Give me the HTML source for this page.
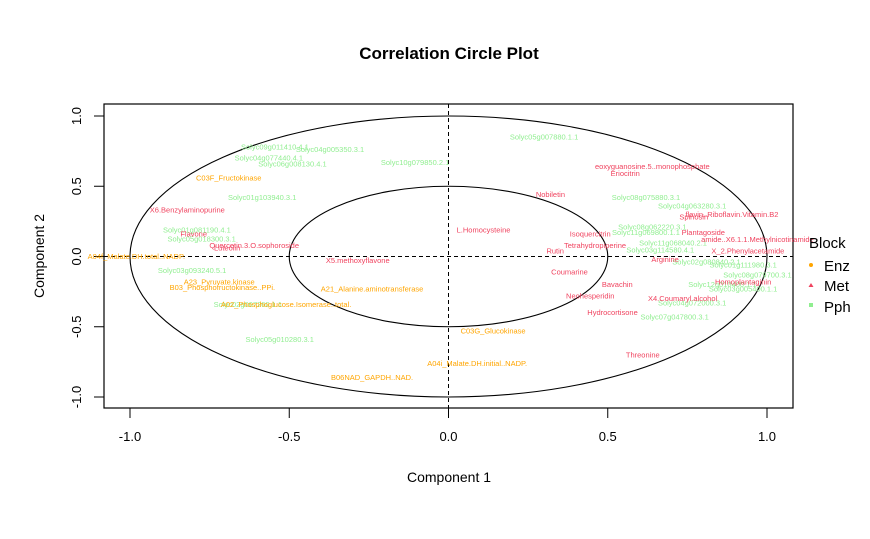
<!DOCTYPE html>
<html><head><meta charset="utf-8"><style>
html,body{margin:0;padding:0;background:#fff;}
svg{display:block;font-family:"Liberation Sans",Arial,sans-serif;}
</style></head><body>
<svg id="chart" width="870" height="539" viewBox="0 0 870 539" xmlns="http://www.w3.org/2000/svg">
<rect width="870" height="539" fill="#fff"/>
<text x="449" y="59" text-anchor="middle" font-size="17" font-weight="bold">Correlation Circle Plot</text>
<g id="axes"></g>
<g id="labels" font-size="7.5" text-anchor="middle"></g>
<text x="449" y="482" text-anchor="middle" font-size="14">Component  1</text>
<text transform="translate(44,256) rotate(-90)" text-anchor="middle" font-size="14">Component  2</text>
<g>
<text x="809" y="248" font-size="15">Block</text>
<circle cx="811" cy="265" r="2" fill="#FFA500"/>
<text x="824" y="271" font-size="15">Enz</text>
<path d="M808.5 287 L811 283 L813.5 287 Z" fill="#F0435F"/>
<text x="824" y="291" font-size="15">Met</text>
<rect x="809" y="303" width="4" height="4" fill="#90EE90"/>
<text x="824" y="312" font-size="15">Pph</text>
</g>
</svg>
<script>
const xTicks = [-1.0, -0.5, 0.0, 0.5, 1.0];
const yTicks = [-1.0, -0.5, 0.0, 0.5, 1.0];
const tickLabels = ["-1.0", "-0.5", "0.0", "0.5", "1.0"];
const radii = [1, 0.5];
const enzNames = ["C03F_Fructokinase","A04f_Malate.DH.total..NADP.","A23_Pyruvate.kinase","B03_Phosphofructokinase..PPi.","A02_Phosphoglucose.Isomerase..total.","A21_Alanine.aminotransferase","C03G_Glucokinase","A04i_Malate.DH.initial..NADP.","B06NAD_GAPDH..NAD."];
const enzX = [-0.69,-0.98,-0.72,-0.71,-0.51,-0.24,0.14,0.09,-0.24];
const enzY = [0.56,0.0,-0.18,-0.22,-0.34,-0.23,-0.53,-0.76,-0.86];
const metNames = ["X6.Benzylaminopurine","Flavone","Quercetin.3.O.sophoroside","Luteolin","X5.methoxyflavone","L.Homocysteine","eoxyguanosine.5..monophosphate","Eriocitrin","Nobiletin","flavin..Riboflavin.Vitamin.B2","Spinosin","Isoquercitrin","Plantagoside","amide..X6.1.1.Methylnicotinamide","Tetrahydropiperine","Rutin","X_2.Phenylacetamide","Arginine","Coumarine","Bavachin","Homoplantaginin","Neohesperidin","X4.Coumaryl.alcohol","Hydrocortisone","Threonine"];
const metX = [-0.82,-0.80,-0.61,-0.695,-0.285,0.11,0.64,0.555,0.32,0.89,0.77,0.445,0.80,0.97,0.46,0.335,0.94,0.68,0.38,0.53,0.925,0.445,0.735,0.515,0.61];
const metY = [0.33,0.16,0.08,0.06,-0.03,0.19,0.64,0.59,0.44,0.30,0.28,0.16,0.17,0.12,0.08,0.04,0.04,-0.02,-0.11,-0.20,-0.18,-0.28,-0.30,-0.40,-0.70];
const pphNames = ["Solyc09g011410.4.1","Solyc04g005350.3.1","Solyc04g077440.4.1","Solyc06g008130.4.1","Solyc01g103940.3.1","Solyc01g081190.4.1","Solyc05g018300.3.1","Solyc03g093240.5.1","Solyc02g067260.1.1","Solyc05g010280.3.1","Solyc10g079850.2.1","Solyc05g007880.1.1","Solyc08g075880.3.1","Solyc04g063280.3.1","Solyc08g062220.3.1","Solyc11g069800.1.1","Solyc11g068040.2.1","Solyc03g114580.4.1","Solyc02g080840.2.1","Solyc01g111980.3.1","Solyc08g079700.3.1","Solyc12g010400.1.1","Solyc03g005400.1.1","Solyc04g072000.3.1","Solyc07g047800.3.1"];
const pphX = [-0.545,-0.372,-0.564,-0.49,-0.585,-0.79,-0.775,-0.805,-0.63,-0.53,-0.105,0.30,0.62,0.765,0.64,0.62,0.705,0.665,0.81,0.925,0.97,0.86,0.925,0.765,0.71];
const pphY = [0.78,0.76,0.70,0.66,0.42,0.19,0.125,-0.10,-0.34,-0.59,0.67,0.85,0.42,0.36,0.21,0.17,0.095,0.045,-0.04,-0.06,-0.13,-0.20,-0.23,-0.33,-0.43];

const NS="http://www.w3.org/2000/svg";
const X0=448.5, XS=318.5, Y0=256.5, YS=140.5;
function sx(v){return X0+v*XS;}
function sy(v){return Y0-v*YS;}
const axes=document.getElementById('axes');
function mk(tag,attrs,parent){const e=document.createElementNS(NS,tag);for(const k in attrs)e.setAttribute(k,attrs[k]);parent.appendChild(e);return e;}
let box=mk('rect',{x:104,y:104,width:689,height:304,fill:'none',stroke:'#000','stroke-width':1.2},axes);


radii.forEach((r,i)=>{
  const c=mk('ellipse',{cx:sx(0),cy:sy(0),rx:r*XS,ry:r*YS,fill:'none',stroke:'#000','stroke-width':1.1},axes);
  
  
});
let h=mk('line',{x1:104,x2:793,y1:sy(0),y2:sy(0),stroke:'#000','stroke-dasharray':'4,3','stroke-width':1},axes);


let v=mk('line',{x1:sx(0),x2:sx(0),y1:104,y2:408,stroke:'#000','stroke-dasharray':'4,3','stroke-width':1},axes);


xTicks.forEach((t,i)=>{
  const l=mk('line',{x1:sx(t),x2:sx(t),y1:408,y2:418,stroke:'#000'},axes);
  
  
  const tx=mk('text',{x:sx(t),y:441,'text-anchor':'middle','font-size':13},axes);
  tx.textContent=tickLabels[i];
  
  
});
yTicks.forEach((t,i)=>{
  const l=mk('line',{x1:94,x2:104,y1:sy(t),y2:sy(t),stroke:'#000'},axes);
  
  
  const tx=mk('text',{transform:`translate(81,${sy(t)}) rotate(-90)`,'text-anchor':'middle','font-size':13},axes);
  tx.textContent=tickLabels[i];
  
  
});
const lab=document.getElementById('labels');
function series(names,xs,ys,color,nm){
  names.forEach((n,i)=>{
    const t=mk('text',{x:sx(xs[i]),y:sy(ys[i])+2.5,fill:color},lab);
    t.textContent=n;
    
    
  });
}
series(pphNames,pphX,pphY,'#90EE90','pph-variable-label');
series(enzNames,enzX,enzY,'#FFA500','enz-variable-label');
series(metNames,metX,metY,'#F0435F','met-variable-label');
</script>
</body></html>
